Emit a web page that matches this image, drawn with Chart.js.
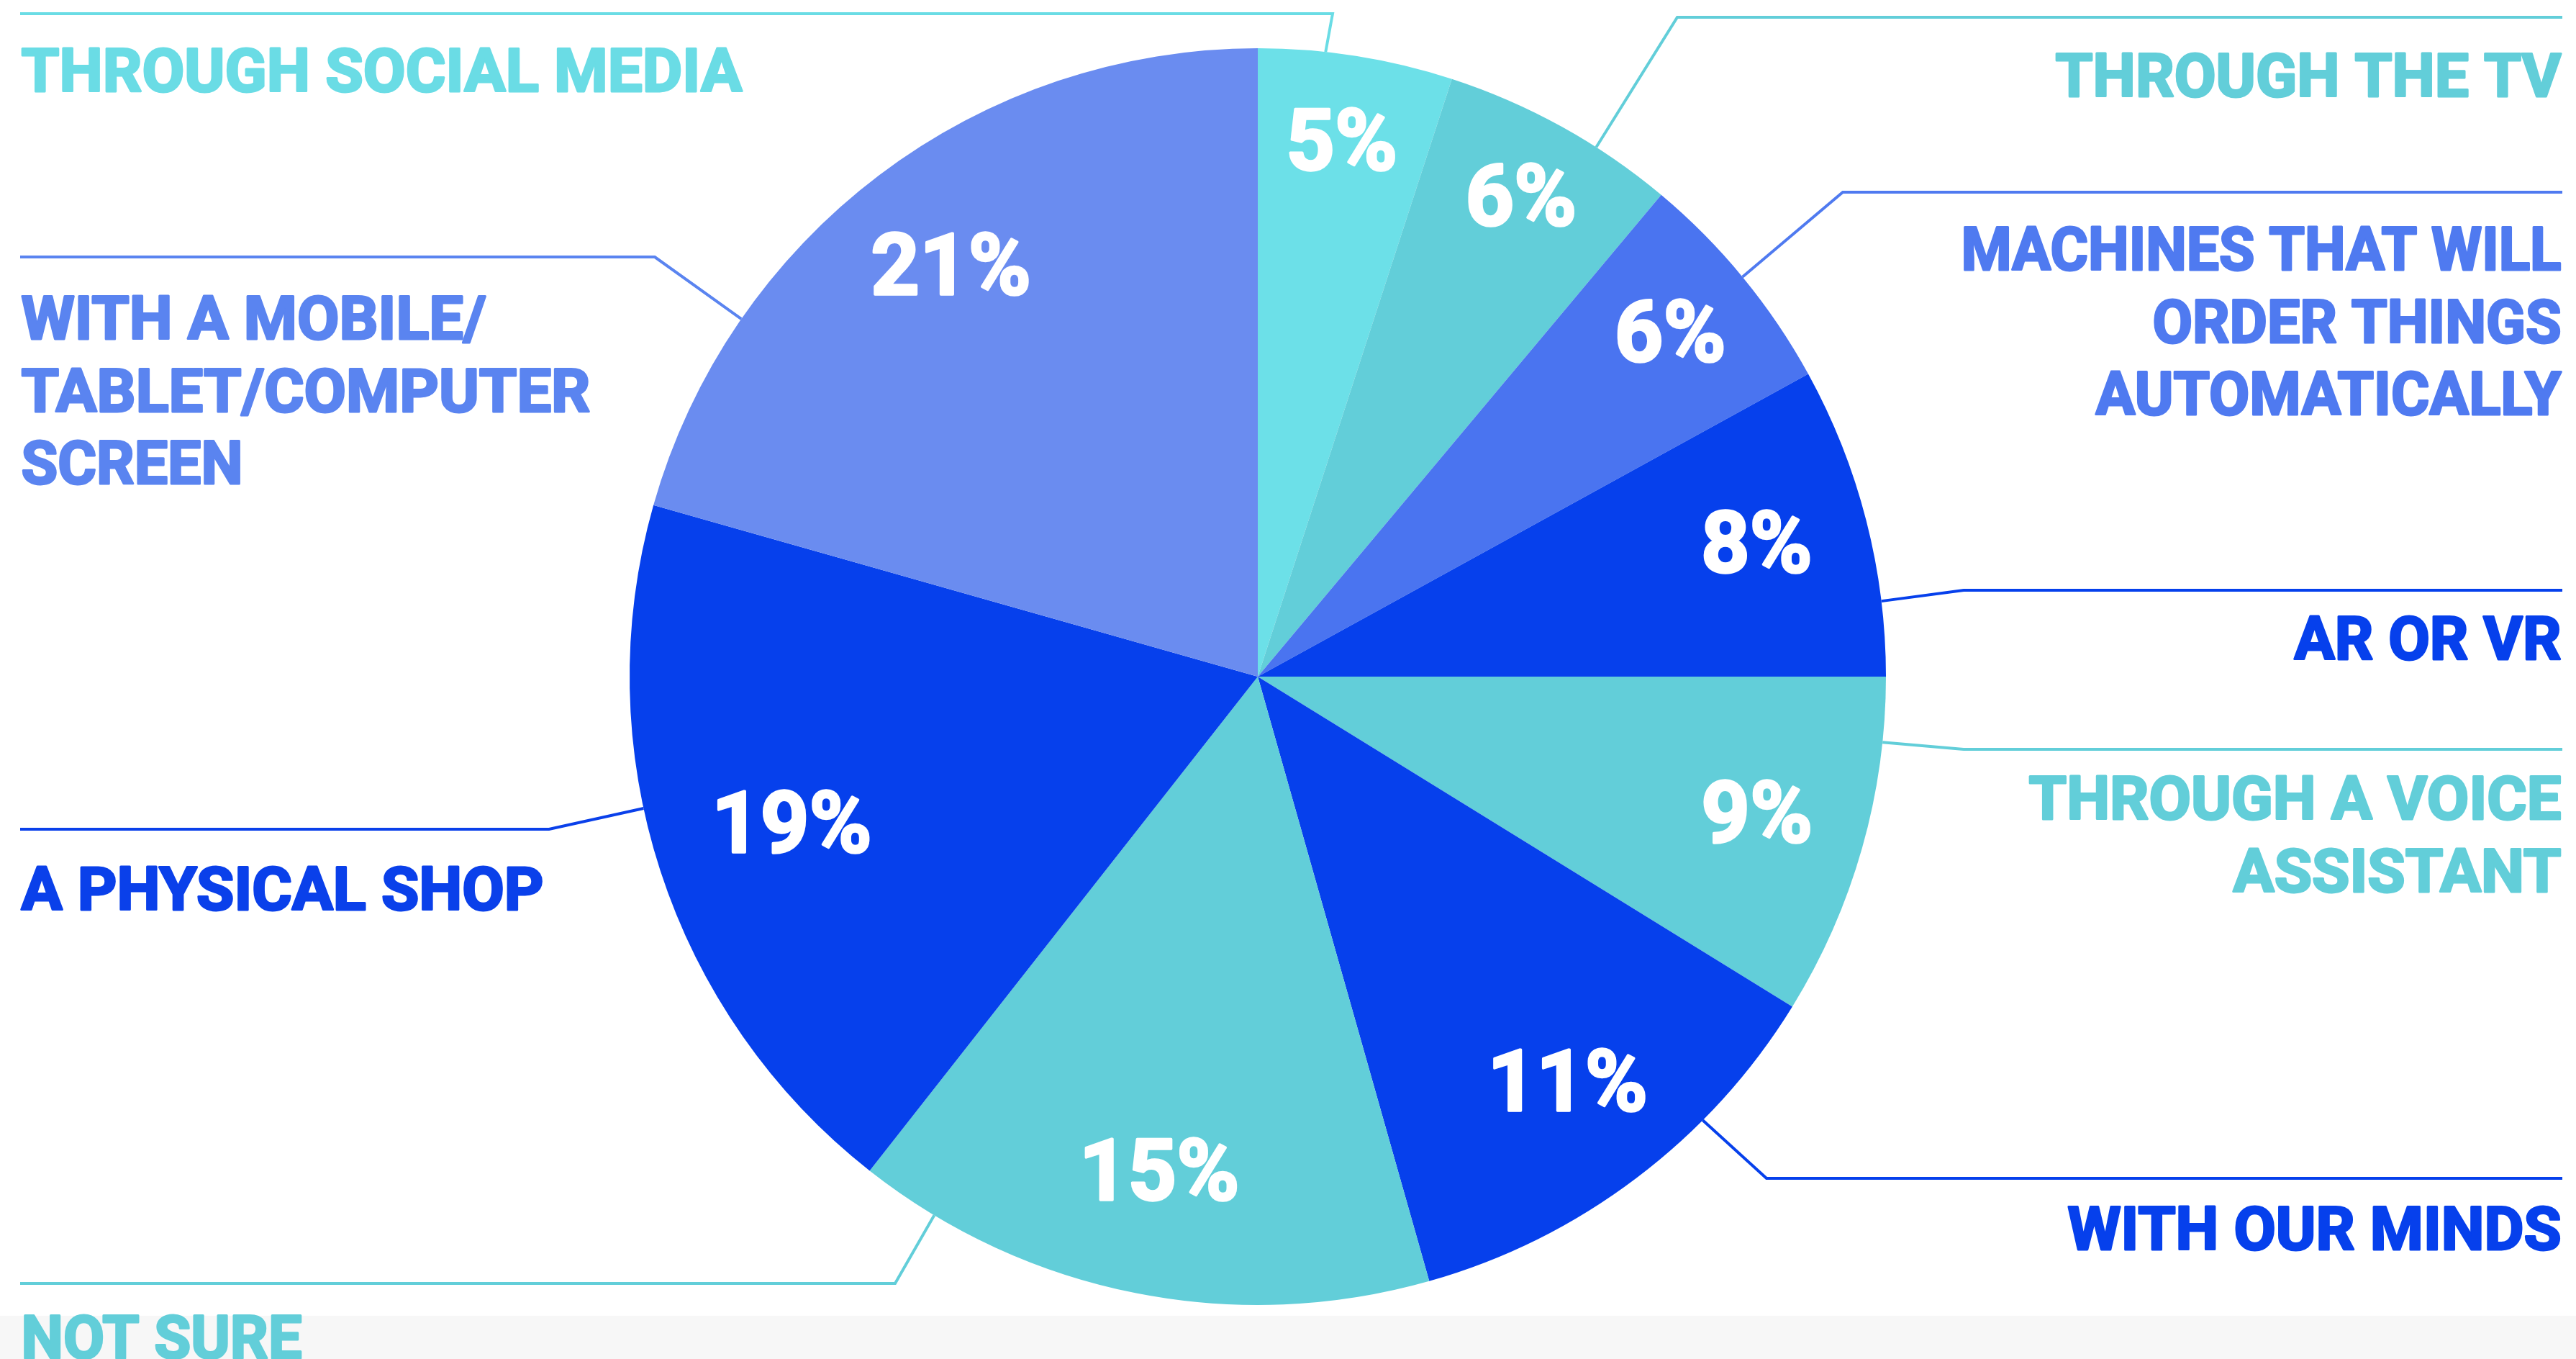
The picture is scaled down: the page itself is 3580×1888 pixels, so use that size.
<!DOCTYPE html>
<html>
<head>
<meta charset="utf-8">
<script src="https://cdn.jsdelivr.net/npm/chart.js@4"></script>
<style>
  html, body { margin: 0; padding: 0; background: #ffffff; overflow: hidden; }
  #wrap { position: relative; width: 3580px; height: 1888px; }
  canvas { display: block; }
</style>
</head>
<body>
<div id="wrap"><canvas id="c" width="3580" height="1888"></canvas></div>
<script>
// ---- data ----
const categories = [
  'THROUGH SOCIAL MEDIA', 'THROUGH THE TV', 'MACHINES THAT WILL ORDER THINGS AUTOMATICALLY',
  'AR OR VR', 'THROUGH A VOICE ASSISTANT', 'WITH OUR MINDS', 'NOT SURE',
  'A PHYSICAL SHOP', 'WITH A MOBILE/TABLET/COMPUTER SCREEN'
];
// slice sizes as drawn in the picture
const values = [5.0, 6.1, 5.9, 8.0, 8.8, 11.8, 15.0, 18.8, 20.6];
// percentages as printed on the slices
const pctLabels = ['5%', '6%', '6%', '8%', '9%', '11%', '15%', '19%', '21%'];
const labelLines = [
  ['THROUGH SOCIAL MEDIA'],
  ['THROUGH THE TV'],
  ['MACHINES THAT WILL', 'ORDER THINGS', 'AUTOMATICALLY'],
  ['AR OR VR'],
  ['THROUGH A VOICE', 'ASSISTANT'],
  ['WITH OUR MINDS'],
  ['NOT SURE'],
  ['A PHYSICAL SHOP'],
  ['WITH A MOBILE/', 'TABLET/COMPUTER', 'SCREEN']
];

// ---- styles ----
const sliceColors = ['#6CE0E8', '#62CED9', '#4A74F0', '#0640EC', '#62CED9', '#0640EC', '#62CED9', '#0640EC', '#6A8CF0'];
const textColors  = ['#6ADCE5', '#62CED9', '#4F7AF0', '#0640EC', '#62CED9', '#0640EC', '#62CED9', '#0A40EA', '#5A84F0'];
const pctRadius   = [0.855, 0.865, 0.85, 0.82, 0.826, 0.818, 0.81, 0.78, 0.81];
// rendered width of each text line (layout fitting)
const lineWidths = [
  [1005], [706], [837, 571, 650], [374], [743, 459], [689], [393], [729], [649, 794, 311]
];
// callout geometry
const callouts = [
  { side: 'left',  lineY: 19,   endX: 28,   elbowX: 1852, anchor: 6.2,   base: 127 },
  { side: 'right', lineY: 24,   endX: 3561, elbowX: 2331, anchor: 32.6,  base: 134 },
  { side: 'right', lineY: 267,  endX: 3561, elbowX: 2561, anchor: 50.5,  base: 375 },
  { side: 'right', lineY: 820,  endX: 3561, elbowX: 2729, anchor: 83.1,  base: 916 },
  { side: 'right', lineY: 1041, endX: 3561, elbowX: 2729, anchor: 96.0,  base: 1138 },
  { side: 'right', lineY: 1637, endX: 3561, elbowX: 2455, anchor: 134.9, base: 1736 },
  { side: 'left',  lineY: 1783, endX: 28,   elbowX: 1244, anchor: 211.0, base: 1887 },
  { side: 'left',  lineY: 1152, endX: 28,   elbowX: 763,  anchor: 257.9, base: 1264 },
  { side: 'left',  lineY: 357,  endX: 28,   elbowX: 910,  anchor: 304.7, base: 471 }
];
const lineGap = 100.5;
const labelFont = 'bold 83px Roboto';
const pctFont = 'bold 118px Roboto';
const labelStroke = 3;
const pctStroke = 3.5;

const bgPlugin = {
  id: 'bg',
  beforeDraw(chart) {
    const ctx = chart.ctx;
    ctx.save();
    ctx.fillStyle = '#ffffff';
    ctx.fillRect(0, 0, chart.width, chart.height);
    ctx.fillStyle = '#F7F7F7';
    ctx.fillRect(0, 1828, chart.width, chart.height - 1828);
    ctx.restore();
  }
};

function heavyText(ctx, text, x, y, stroke) {
  ctx.lineWidth = stroke;
  ctx.lineJoin = 'round';
  ctx.strokeText(text, x, y);
  ctx.fillText(text, x, y);
}

function fitText(ctx, text, x, y, width, align, stroke) {
  const natural = ctx.measureText(text).width + stroke;
  const s = width / natural;
  ctx.save();
  ctx.translate(align === 'left' ? x + stroke / 2 : x - stroke / 2, y);
  ctx.scale(s, 1);
  ctx.textAlign = align;
  heavyText(ctx, text, 0, 0, stroke);
  ctx.restore();
}

const calloutPlugin = {
  id: 'callouts',
  afterDatasetsDraw(chart) {
    const ctx = chart.ctx;
    const meta = chart.getDatasetMeta(0);
    ctx.save();
    meta.data.forEach((arc, i) => {
      const p = arc.getProps(['x', 'y', 'startAngle', 'endAngle', 'outerRadius'], true);
      const R = p.outerRadius;
      // percentage label
      const mid = (p.startAngle + p.endAngle) / 2;
      const r = R * pctRadius[i];
      ctx.fillStyle = '#ffffff';
      ctx.strokeStyle = '#ffffff';
      ctx.font = pctFont;
      ctx.textAlign = 'center';
      ctx.textBaseline = 'middle';
      heavyText(ctx, pctLabels[i], p.x + r * Math.cos(mid), p.y + r * Math.sin(mid) + 4, pctStroke);

      // leader line
      const c = callouts[i];
      const th = c.anchor * Math.PI / 180;
      const ax = p.x + R * Math.sin(th);
      const ay = p.y - R * Math.cos(th);
      ctx.strokeStyle = textColors[i];
      ctx.lineWidth = 4;
      ctx.lineJoin = 'miter';
      ctx.beginPath();
      ctx.moveTo(c.endX, c.lineY);
      ctx.lineTo(c.elbowX, c.lineY);
      ctx.lineTo(ax, ay);
      ctx.stroke();

      // outer label text
      ctx.fillStyle = textColors[i];
      ctx.font = labelFont;
      ctx.textBaseline = 'alphabetic';
      const align = c.side === 'left' ? 'left' : 'right';
      labelLines[i].forEach((t, k) => {
        fitText(ctx, t, c.endX, c.base + k * lineGap, lineWidths[i][k], align, labelStroke);
      });
    });
    ctx.restore();
  }
};

new Chart(document.getElementById('c'), {
  type: 'pie',
  data: {
    labels: categories,
    datasets: [{
      data: values,
      backgroundColor: sliceColors,
      borderWidth: 0
    }]
  },
  options: {
    responsive: false,
    animation: false,
    devicePixelRatio: 1,
    layout: { padding: { left: 875, right: 959, top: 67, bottom: 75 } },
    plugins: {
      legend: { display: false },
      tooltip: { enabled: false }
    }
  },
  plugins: [bgPlugin, calloutPlugin]
});
</script>
</body>
</html>
